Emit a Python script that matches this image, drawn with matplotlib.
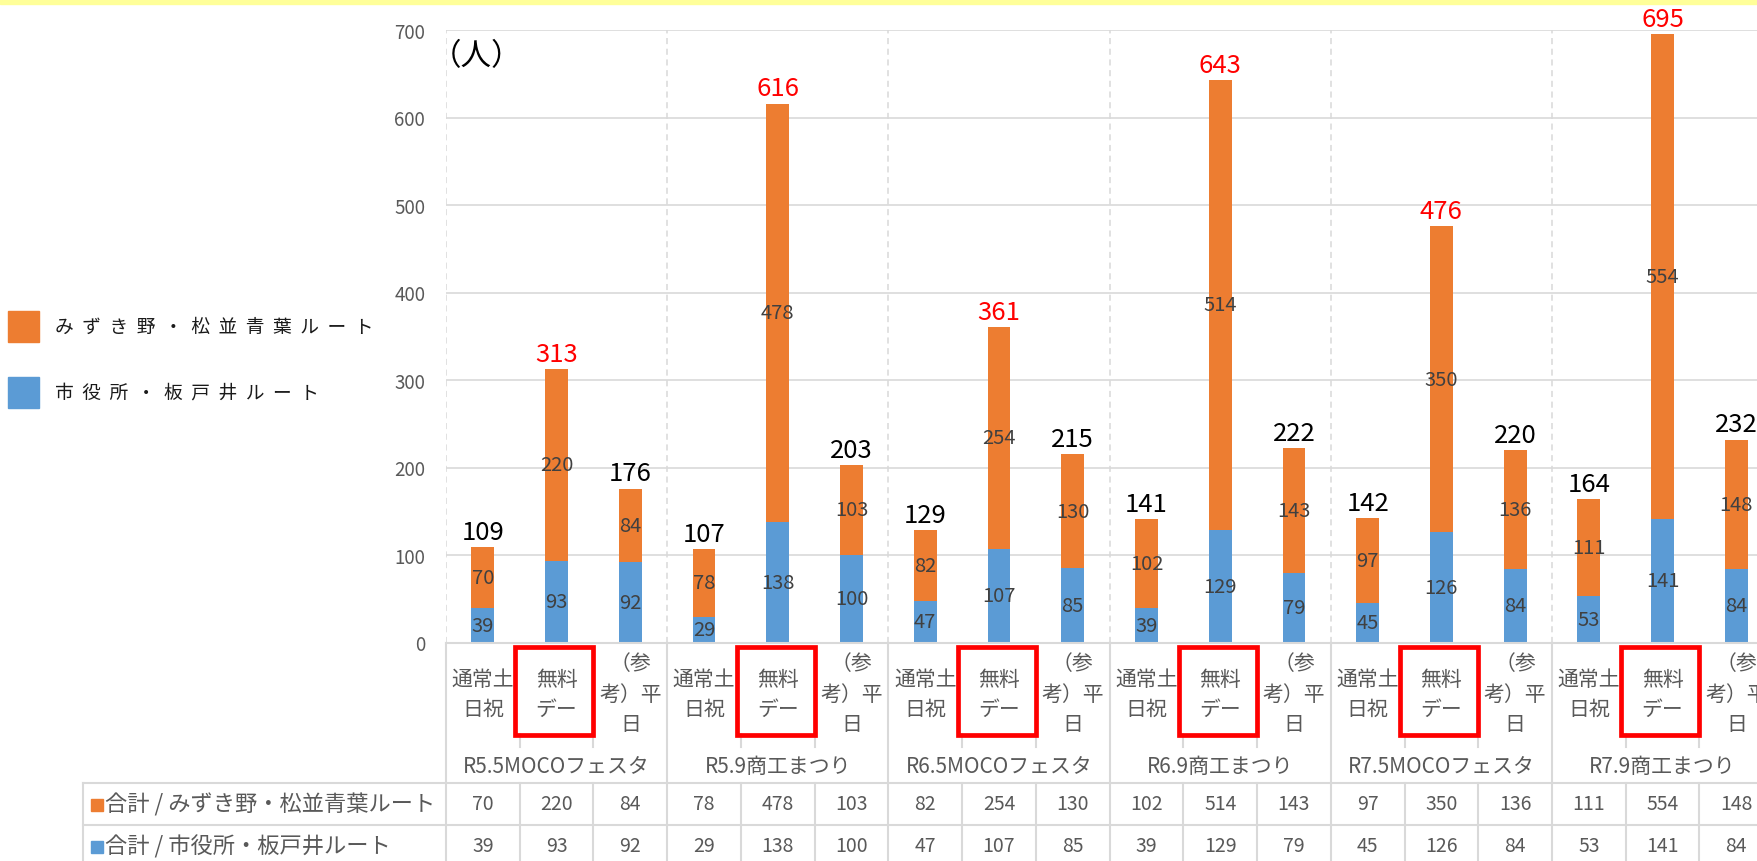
import matplotlib
matplotlib.use('Agg')
import matplotlib.pyplot as plt
from matplotlib.patches import Rectangle
import matplotlib.transforms as mtransforms
import numpy as np

plt.rcParams['font.family'] = ['Noto Sans CJK JP', 'DejaVu Sans']

# ---------------- data ----------------
events = ["R5.5MOCOフェスタ", "R5.9商工まつり", "R6.5MOCOフェスタ",
          "R6.9商工まつり", "R7.5MOCOフェスタ", "R7.9商工まつり"]
day_types = ["通常土日祝", "無料デー", "（参考）平日"]
day_labels = ["通常土\n日祝", "無料\nデー", "（参\n考）平\n日"]
series_names = ["みずき野・松並青葉ルート", "市役所・板戸井ルート"]
mizukino = [70, 220, 84, 78, 478, 103, 82, 254, 130,
            102, 514, 143, 97, 350, 136, 111, 554, 148]
shiyakusho = [39, 93, 92, 29, 138, 100, 47, 107, 85,
              39, 129, 79, 45, 126, 84, 53, 141, 84]
yticks = [0, 100, 200, 300, 400, 500, 600, 700]
unit_label = "（人）"
table_prefix = "合計 / "
highlight_day = "無料デー"

# ---------------- style ----------------
ORANGE = '#ED7D31'
BLUE = '#5B9BD5'
GRID = '#d9d9d9'
GRAY_TXT = '#595959'
IN_TXT = '#404040'

W, H = 1758, 862
fig = plt.figure(figsize=(W / 100, H / 100), dpi=100)
fig.patch.set_facecolor('white')


def fx(p):
    return p / W


def fy(p):
    return 1 - p / H


ax_left, ax_right, ax_top, ax_bottom = 446, 1773.2, 31, 643.5
ax = fig.add_axes([fx(ax_left), fy(ax_bottom), (ax_right - ax_left) / W,
                   (ax_bottom - ax_top) / H])

n = len(mizukino)
nd = len(day_types)
x = np.arange(n)
totals = [a + b for a, b in zip(mizukino, shiyakusho)]

ax.bar(x, shiyakusho, width=0.31, color=BLUE, zorder=3)
ax.bar(x, mizukino, width=0.31, bottom=shiyakusho, color=ORANGE, zorder=3)
ax.set_xlim(-0.5, n - 0.5)
ax.set_ylim(0, 700)

for s in ax.spines.values():
    s.set_visible(False)
ax.set_xticks([])
ax.set_yticks(yticks)
ax.tick_params(axis='y', length=0, pad=15, labelsize=13.5, labelcolor=GRAY_TXT)
ax.yaxis.grid(True, color=GRID, lw=1.2, zorder=0)
ax.set_axisbelow(True)

# dashed group separators inside plot
for g in range(len(events)):
    ax.axvline(g * nd - 0.5, color=GRID, lw=1.1, ls=(0, (4, 3)), zorder=1)

# value labels inside bars
for i in range(n):
    ax.text(x[i], shiyakusho[i] / 2, str(shiyakusho[i]), ha='center',
            va='center', fontsize=14.5, color=IN_TXT, zorder=4)
    ax.text(x[i], shiyakusho[i] + mizukino[i] / 2, str(mizukino[i]),
            ha='center', va='center', fontsize=14.5, color=IN_TXT, zorder=4)
    col = 'red' if day_types[i % nd] == highlight_day else 'black'
    ax.annotate(str(totals[i]), (x[i], totals[i]), xytext=(0, 1.5),
                textcoords='offset points', ha='center', va='bottom',
                fontsize=18.5, color=col, zorder=5, annotation_clip=False)

# ---------------- category axis & table ----------------
trans = mtransforms.blended_transform_factory(ax.transData, fig.transFigure)


def vline(xd, p0, p1):
    ax.plot([xd, xd], [fy(p0), fy(p1)], transform=trans, color=GRID,
            lw=1.5, clip_on=False, zorder=2)


def hline_fig(p, x0, x1):
    fig.add_artist(plt.Line2D([fx(x0), fx(x1)], [fy(p), fy(p)],
                              transform=fig.transFigure, color=GRID, lw=1.5))


# x-axis line
hline_fig(643.5, ax_left, W + 10)
# table horizontal lines
hline_fig(784, 83, W + 10)
hline_fig(826, 83, W + 10)
hline_fig(868, 83, W + 10)
fig.add_artist(plt.Line2D([fx(83), fx(83)], [fy(784), fy(870)],
                          transform=fig.transFigure, color=GRID, lw=1.5))

for i in range(n + 1):
    xb = i - 0.5
    if i % nd == 0:
        vline(xb, 643.5, 870)
    else:
        vline(xb, 735, 748)
        vline(xb, 784, 870)

# category labels
for i in range(n):
    ax.text(x[i], fy(695), day_labels[i % nd], transform=trans,
            ha='center', va='center', multialignment='center',
            linespacing=1.5, fontsize=15, color=GRAY_TXT, clip_on=False)
    if day_types[i % nd] == highlight_day:
        ax.add_patch(Rectangle((x[i] - 0.56, fy(736)), 1.06,
                               (736 - 648) / H, transform=trans,
                               fill=False, edgecolor='#FF0000', lw=3.4,
                               clip_on=False, zorder=6))

# event labels
for g, ev in enumerate(events):
    ax.text(g * nd + (nd - 1) / 2, fy(767), ev, transform=trans,
            ha='center', va='center', fontsize=15, color=GRAY_TXT,
            clip_on=False)

# table values
row_y = [805, 847]
row_vals = [mizukino, shiyakusho]
row_cols = [ORANGE, BLUE]
for r in range(2):
    fig.add_artist(Rectangle((fx(91), fy(row_y[r] + 7)), 12 / W, 12 / H,
                             transform=fig.transFigure, color=row_cols[r]))
    fig.text(fx(105), fy(row_y[r]), table_prefix + series_names[r],
             ha='left', va='center', fontsize=16, color=GRAY_TXT)
    for i in range(n):
        ax.text(x[i], fy(row_y[r]), str(row_vals[r][i]), transform=trans,
                ha='center', va='center', fontsize=14, color=GRAY_TXT,
                clip_on=False)

# ---------------- legend (left) ----------------
leg_y = [327.5, 393.5]
leg_cols = [ORANGE, BLUE]
for k in range(2):
    fig.add_artist(Rectangle((fx(8), fy(leg_y[k] + 15.5)), 31 / W, 31 / H,
                             transform=fig.transFigure, color=leg_cols[k]))
    fig.text(fx(55), fy(leg_y[k]), '  '.join(list(series_names[k])),
             ha='left', va='center', fontsize=13.5, color='#1a1a1a')

# unit label
fig.text(fx(477), fy(57), unit_label, ha='center', va='center',
         fontsize=22, color='black')

# top yellow strip
fig.add_artist(Rectangle((0, fy(5)), 1, 5 / H, transform=fig.transFigure,
                         color='#FFFF99'))

fig.savefig('out.png', dpi=100)
